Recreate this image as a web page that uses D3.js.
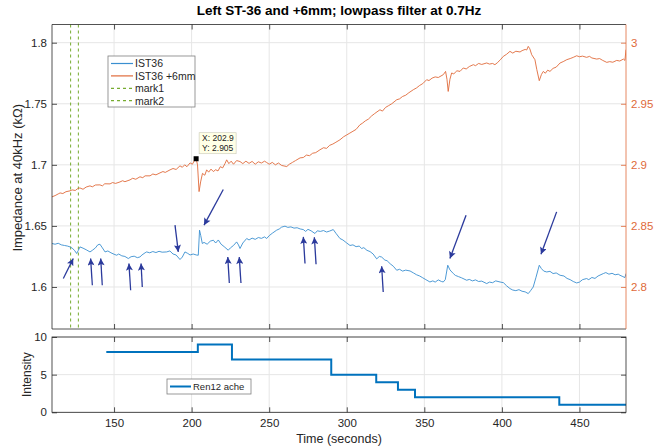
<!DOCTYPE html>
<html><head><meta charset="utf-8">
<script src="https://cdn.jsdelivr.net/npm/d3@7"></script>
<style>
body{margin:0;background:#fff}
svg{font-family:"Liberation Sans",Arial,sans-serif}
</style>
</head><body>
<svg id="c" width="662" height="447"></svg>
<script>
// ---- data ----
const titleText = "Left ST-36 and +6mm; lowpass filter at 0.7Hz";
const seriesNames = ["IST36", "IST36 +6mm", "mark1", "mark2"];
const ist36 = [[110,1.6356],[112,1.6350],[114,1.6358],[116,1.6345],[118,1.6340],[120,1.6335],[121.6,1.6328],[123,1.6318],[124.5,1.6300],[125.9,1.6274],[127,1.6300],[128,1.6328],[130,1.6318],[132,1.6305],[134.5,1.6287],[136,1.6300],[138,1.6320],[139.5,1.6345],[140.9,1.6350],[142.5,1.6320],[144.2,1.6287],[146,1.6295],[148,1.6280],[150,1.6268],[151.7,1.6260],[153,1.6270],[155,1.6255],[157,1.6250],[159.2,1.6233],[161,1.6248],[163,1.6252],[165,1.6240],[166.7,1.6246],[168,1.6262],[170,1.6280],[171,1.6287],[173,1.6280],[175,1.6290],[177,1.6282],[179,1.6292],[181,1.6285],[183.9,1.6287],[186,1.6295],[188,1.6270],[190,1.6262],[192.5,1.6225],[194,1.6245],[195.7,1.6287],[197.5,1.6275],[199,1.6262],[201,1.6270],[203,1.6262],[204.3,1.6260],[205.1,1.6465],[205.9,1.6420],[206.9,1.6356],[208,1.6365],[210,1.6350],[212,1.6375],[214,1.6383],[215.5,1.6360],[217.2,1.6385],[219,1.6350],[221,1.6330],[223.6,1.6301],[225,1.6320],[227,1.6340],[229,1.6369],[230.2,1.6345],[231.2,1.6315],[233,1.6360],[235.5,1.6397],[237,1.6385],[239,1.6400],[241,1.6390],[243,1.6405],[245,1.6398],[247,1.6410],[248.4,1.6397],[250,1.6420],[252,1.6440],[254.8,1.6465],[256.5,1.6475],[258,1.6490],[260.2,1.6498],[262,1.6488],[264,1.6492],[266,1.6482],[268,1.6485],[270,1.6475],[272,1.6470],[273.5,1.6455],[275,1.6472],[277,1.6460],[279.5,1.6438],[281,1.6460],[283,1.6455],[285,1.6462],[287,1.6450],[289,1.6458],[291.3,1.6470],[293,1.6440],[295.6,1.6397],[297.5,1.6385],[300,1.6360],[302.1,1.6340],[304,1.6345],[306,1.6330],[308,1.6335],[309.6,1.6315],[311,1.6322],[313,1.6300],[315,1.6290],[317,1.6270],[319.3,1.6230],[321,1.6250],[322.5,1.6245],[324.6,1.6220],[326,1.6215],[328,1.6190],[330,1.6170],[332.2,1.6137],[334,1.6145],[336,1.6130],[338,1.6138],[340.8,1.6131],[343,1.6115],[345,1.6100],[347,1.6090],[349,1.6075],[351,1.6060],[353.6,1.6041],[355.5,1.6050],[357,1.6040],[359,1.6058],[361,1.6045],[362.2,1.6041],[363.5,1.6060],[365.1,1.6178],[366.5,1.6140],[368.7,1.6110],[370,1.6095],[372,1.6085],[374,1.6075],[377.3,1.6055],[379,1.6062],[381,1.6050],[383,1.6058],[385,1.6045],[387,1.6048],[390.2,1.6028],[392,1.6040],[394,1.6035],[396,1.6050],[398.8,1.6041],[401,1.6035],[403,1.6010],[405.2,1.5987],[407,1.5975],[409,1.5970],[411,1.5978],[413,1.5965],[415,1.5960],[417,1.5946],[418.5,1.5970],[420.2,1.6000],[422,1.6080],[424.1,1.6178],[425.5,1.6150],[427,1.6130],[428.9,1.6123],[431,1.6128],[433,1.6110],[435,1.6115],[437.5,1.6096],[440,1.6090],[442,1.6070],[444,1.6060],[446,1.6045],[448.2,1.6033],[450,1.6040],[452,1.6060],[454.6,1.6069],[456,1.6060],[458,1.6078],[460,1.6070],[462,1.6090],[465.4,1.6110],[467,1.6118],[469,1.6105],[471,1.6112],[473,1.6100],[475,1.6105],[476.1,1.6096],[478,1.6085],[479.3,1.6077],[480,1.6110]];
const ist36p6 = [[110,2.8738],[112,2.8748],[114,2.8762],[115.2,2.8770],[117,2.8765],[119,2.8780],[121.6,2.8787],[123,2.8795],[125,2.8790],[126.5,2.8805],[128,2.8811],[130,2.8800],[132,2.8818],[134.5,2.8828],[136,2.8820],[138,2.8835],[140.9,2.8836],[142.5,2.8828],[144,2.8845],[147.4,2.8844],[149,2.8855],[151,2.8848],[153.8,2.8860],[155.5,2.8870],[157,2.8862],[160.3,2.8877],[162,2.8890],[164,2.8882],[166.7,2.8902],[168.5,2.8895],[170,2.8910],[173.2,2.8910],[175,2.8925],[177,2.8918],[179.6,2.8934],[181.5,2.8945],[183,2.8938],[186.1,2.8959],[188,2.8970],[190,2.8962],[192.5,2.8992],[194,2.8980],[195.5,2.9000],[197,2.8985],[199,2.9016],[200.5,2.9005],[202,2.9040],[202.9,2.9050],[203.8,2.9000],[204.8,2.8781],[205.8,2.8860],[207,2.8930],[208.5,2.8915],[209.7,2.8959],[211,2.8940],[212.5,2.8965],[214,2.8945],[215.5,2.8960],[217,2.8950],[218.5,2.8985],[220,2.8975],[221.5,2.9010],[222.6,2.9041],[224,2.9010],[225.5,2.9030],[227,2.9005],[229,2.9035],[231.2,2.9027],[233,2.9010],[235,2.9030],[237,2.9012],[239,2.9028],[241,2.9005],[243,2.9025],[245,2.9015],[247,2.9030],[248.4,2.9019],[250,2.9005],[252,2.9020],[254,2.9000],[256,2.9015],[258,2.8995],[261.3,2.8986],[263,2.9005],[265,2.9020],[267,2.9035],[269.9,2.9057],[272,2.9060],[274,2.9080],[276,2.9075],[278,2.9095],[280,2.9100],[282.7,2.9123],[285,2.9140],[287,2.9135],[289,2.9160],[291,2.9170],[293,2.9185],[295.6,2.9205],[298,2.9230],[300,2.9245],[302,2.9260],[304,2.9275],[306,2.9290],[308.5,2.9328],[310,2.9340],[312,2.9360],[314,2.9375],[316,2.9400],[318,2.9420],[321.4,2.9451],[323,2.9440],[325,2.9470],[327,2.9485],[329,2.9500],[332.2,2.9533],[334,2.9540],[336,2.9560],[338,2.9570],[340,2.9590],[342.9,2.9615],[345,2.9630],[347,2.9650],[349,2.9665],[351.5,2.9697],[353,2.9690],[355,2.9710],[357,2.9720],[359,2.9715],[362.2,2.9738],[363.7,2.9765],[364.6,2.9700],[365.4,2.9601],[366.5,2.9700],[367.6,2.9752],[369,2.9745],[371,2.9770],[373,2.9765],[375.1,2.9793],[377,2.9785],[379,2.9805],[381.6,2.9820],[383,2.9812],[385,2.9830],[387,2.9822],[390.2,2.9834],[392,2.9825],[394,2.9830],[395.5,2.9820],[397,2.9835],[399,2.9860],[400.9,2.9888],[403,2.9905],[405.2,2.9929],[407,2.9915],[409,2.9930],[411.7,2.9924],[413,2.9935],[415,2.9945],[416,2.9940],[417,2.9970],[418,2.9950],[419.2,2.9902],[421.3,2.9861],[422.5,2.9780],[424.1,2.9689],[425.5,2.9740],[426.7,2.9765],[428,2.9750],[429.5,2.9775],[431,2.9765],[433,2.9790],[435,2.9800],[437.5,2.9834],[439.5,2.9845],[441.8,2.9861],[444,2.9870],[446,2.9880],[448.2,2.9893],[450,2.9885],[452,2.9890],[454.6,2.9880],[456.5,2.9888],[458,2.9875],[461.1,2.9866],[463,2.9870],[465,2.9855],[467.6,2.9839],[469.5,2.9845],[471.5,2.9840],[474,2.9855],[476,2.9850],[478.3,2.9866],[479.3,2.9855],[480,2.9943]];
const markTimes = [122, 127];
const dataTip = [202.9, 2.905];
// annotation arrows: [tailTime, tailValue, tipTime, tipValue] on left axis
const arrows = [[117.3,1.6069,123.7,1.6233],[136,1.6014,134.9,1.6233],[142.4,1.6014,141.4,1.6233],[160.7,1.5973,159.6,1.6192],[168.2,1.6,167.4,1.6192],[189.3,1.6506,191.4,1.6287],[220.4,1.6798,208,1.6506],[224.3,1.6033,223.3,1.6246],[231.8,1.6033,230.7,1.6246],[273.1,1.6192,272,1.641],[280.2,1.6186,279.1,1.6407],[323.5,1.5959,322.5,1.617],[376.9,1.6588,366.5,1.6233],[435.3,1.6615,425.2,1.6268]];
const painTimes = [145, 204, 226, 290, 319, 333, 344, 437, 480];
const painValues = [8, 9, 7, 5, 4, 3, 2, 1, 1];
const painName = "Ren12 ache";
const xTicks = [150, 200, 250, 300, 350, 400, 450];
const yLeftTicks = [1.6, 1.65, 1.7, 1.75, 1.8];
const yRightTicks = [2.8, 2.85, 2.9, 2.95, 3];
const yLowTicks = [0, 5, 10];

// ---- layout ----
const L = 52, R = 626, T1 = 24.5, B1 = 329, T2 = 337, B2 = 412.3;
const BLUE = "#0072BD", BLUE_L = "#3a8fd0", ORANGE = "#e06a3a", GREEN = "#77AC30", AX = "#262626", GRID = "#e6e6e6", ARROW = "#2b3a9c";
const svg = d3.select("#c");
const x = d3.scaleLinear().domain([110, 480]).range([L, R]);
const yL = d3.scaleLinear().domain([1.5656, 1.8149]).range([B1, T1]);
const yR = d3.scaleLinear().domain([2.7656, 3.0149]).range([B1, T1]);
const yP = d3.scaleLinear().domain([0, 10]).range([B2, T2]);

const defs = svg.append("defs");
defs.append("clipPath").attr("id", "cp1").append("rect").attr("x", L).attr("y", T1).attr("width", R - L).attr("height", B1 - T1);
defs.append("clipPath").attr("id", "cp2").append("rect").attr("x", L).attr("y", T2 - 2).attr("width", R - L + 1).attr("height", B2 - T2 + 4);
defs.append("marker").attr("id", "ah").attr("viewBox", "0 0 10 10").attr("refX", 10).attr("refY", 5)
  .attr("markerWidth", 8).attr("markerHeight", 7).attr("markerUnits", "userSpaceOnUse").attr("orient", "auto")
  .append("path").attr("d", "M0,0 L10,5 L0,10 L2,5 Z").attr("fill", ARROW);

// grids
function grid(g, yScale, ticks, top, bottom) {
  g.selectAll("line.gx").data(xTicks).join("line").attr("x1", d => x(d)).attr("x2", d => x(d))
    .attr("y1", top).attr("y2", bottom).attr("stroke", GRID).attr("stroke-width", 1);
  g.selectAll("line.gy").data(ticks).join("line").attr("class", "gy").attr("x1", L).attr("x2", R)
    .attr("y1", d => yScale(d)).attr("y2", d => yScale(d)).attr("stroke", GRID).attr("stroke-width", 1);
}
grid(svg.append("g"), yL, yLeftTicks, T1, B1);
grid(svg.append("g"), yP, yLowTicks, T2, B2);

// upper plot lines
const p1 = svg.append("g").attr("clip-path", "url(#cp1)");
p1.selectAll("line.mark").data(markTimes).join("line").attr("x1", d => x(d)).attr("x2", d => x(d))
  .attr("y1", T1).attr("y2", B1).attr("stroke", GREEN).attr("stroke-width", 1).attr("stroke-dasharray", "3,3");
p1.append("path").datum(ist36p6).attr("fill", "none").attr("stroke", ORANGE).attr("stroke-width", 0.9)
  .attr("d", d3.line().x(d => x(d[0])).y(d => yR(d[1])));
p1.append("path").datum(ist36).attr("fill", "none").attr("stroke", BLUE_L).attr("stroke-width", 0.9)
  .attr("d", d3.line().x(d => x(d[0])).y(d => yL(d[1])));

// arrows
svg.append("g").selectAll("line").data(arrows).join("line")
  .attr("x1", d => x(d[0])).attr("y1", d => yL(d[1])).attr("x2", d => x(d[2])).attr("y2", d => yL(d[3]))
  .attr("stroke", ARROW).attr("stroke-width", 1.3).attr("marker-end", "url(#ah)");

// upper axes
const gx1 = svg.append("g").attr("transform", `translate(0,${B1})`)
  .call(d3.axisTop(x).tickValues(xTicks).tickSize(5).tickFormat(""));
const gx1t = svg.append("g").attr("transform", `translate(0,${T1})`)
  .call(d3.axisBottom(x).tickValues(xTicks).tickSize(5).tickFormat(""));
[gx1, gx1t].forEach(g => { g.select(".domain").remove(); g.selectAll("line").attr("stroke", AX).attr("stroke-width", 0.8); });
const gyl = svg.append("g").attr("transform", `translate(${L},0)`)
  .call(d3.axisRight(yL).tickValues(yLeftTicks).tickSize(5).tickFormat(d3.format("")));
gyl.select(".domain").remove();
gyl.selectAll("line").attr("stroke", AX).attr("stroke-width", 0.8);
gyl.selectAll("text").attr("x", -5).attr("text-anchor", "end").attr("fill", AX).style("font-size", "11.5px").attr("font-family", null);
const gyr = svg.append("g").attr("transform", `translate(${R},0)`)
  .call(d3.axisLeft(yR).tickValues(yRightTicks).tickSize(5).tickFormat(d3.format("")));
gyr.select(".domain").remove();
gyr.selectAll("line").attr("stroke", ORANGE).attr("stroke-width", 0.8);
gyr.selectAll("text").attr("x", 5).attr("text-anchor", "start").attr("fill", ORANGE).style("font-size", "11.5px").attr("font-family", null);
svg.append("path").attr("d", `M${R},${B1} L${L},${B1} L${L},${T1} L${R},${T1}`).attr("fill", "none").attr("stroke", AX).attr("stroke-width", 0.8);
svg.append("line").attr("x1", R).attr("x2", R).attr("y1", T1).attr("y2", B1).attr("stroke", ORANGE).attr("stroke-width", 0.8);

// data tip
const tipX = x(dataTip[0]), tipY = yR(dataTip[1]);
svg.append("rect").attr("x", tipX - 2.5).attr("y", tipY - 2.5).attr("width", 5).attr("height", 5).attr("fill", "#000");
const tb = svg.append("g").attr("transform", `translate(${tipX + 3},${tipY - 26})`);
tb.append("rect").attr("width", 37).attr("height", 21).attr("fill", "#ffffe6").attr("stroke", "#c8c8b8").attr("stroke-width", 0.6);
tb.append("text").attr("x", 3).attr("y", 8.5).style("font-size", "8.5px").attr("fill", "#222").text("X: " + dataTip[0]);
tb.append("text").attr("x", 3).attr("y", 18).style("font-size", "8.5px").attr("fill", "#222").text("Y: " + dataTip[1]);

// legend upper
const lg = svg.append("g").attr("transform", "translate(108,56)");
lg.append("rect").attr("width", 87).attr("height", 51).attr("fill", "#fff").attr("stroke", "#7f7f7f").attr("stroke-width", 0.8);
const legStyles = [[BLUE_L, null], [ORANGE, null], [GREEN, "3,3"], [GREEN, "3,3"]];
seriesNames.forEach((n, i) => {
  const yy = 7.5 + i * 12.4;
  lg.append("line").attr("x1", 3).attr("x2", 25).attr("y1", yy).attr("y2", yy)
    .attr("stroke", legStyles[i][0]).attr("stroke-width", 1.2).attr("stroke-dasharray", legStyles[i][1]);
  lg.append("text").attr("x", 27).attr("y", yy + 3.8).style("font-size", "10.5px").attr("fill", AX).text(n);
});

// title + labels
svg.append("text").attr("x", (L + R) / 2).attr("y", 15).attr("text-anchor", "middle")
  .style("font-size", "13.5px").style("font-weight", "bold").attr("fill", "#000").text(titleText);
svg.append("text").attr("transform", `translate(22,${(T1 + B1) / 2 + 1}) rotate(-90)`).attr("text-anchor", "middle")
  .style("font-size", "13px").attr("fill", AX).text("Impedance at 40kHz (kΩ)");

// lower plot
const p2 = svg.append("g").attr("clip-path", "url(#cp2)");
p2.append("path").datum(painTimes.map((t, i) => [t, painValues[i]])).attr("fill", "none").attr("stroke", BLUE).attr("stroke-width", 2)
  .attr("d", d3.line().curve(d3.curveStepAfter).x(d => x(d[0])).y(d => yP(d[1])));
const gx2 = svg.append("g").attr("transform", `translate(0,${B2})`)
  .call(d3.axisTop(x).tickValues(xTicks).tickSize(5).tickFormat(""));
gx2.select(".domain").remove(); gx2.selectAll("line").attr("stroke", AX).attr("stroke-width", 0.8);
const gx2t = svg.append("g").attr("transform", `translate(0,${T2})`)
  .call(d3.axisBottom(x).tickValues(xTicks).tickSize(5).tickFormat(""));
gx2t.select(".domain").remove(); gx2t.selectAll("line").attr("stroke", AX).attr("stroke-width", 0.8);
const gx2l = svg.append("g").attr("transform", `translate(0,${B2})`)
  .call(d3.axisBottom(x).tickValues(xTicks).tickSize(0).tickPadding(7).tickFormat(d3.format("")));
gx2l.select(".domain").remove();
gx2l.selectAll("text").attr("fill", AX).style("font-size", "11.5px").attr("font-family", null);
const gyp = svg.append("g").attr("transform", `translate(${L},0)`)
  .call(d3.axisRight(yP).tickValues(yLowTicks).tickSize(5).tickFormat(d3.format("")));
gyp.select(".domain").remove(); gyp.selectAll("line").attr("stroke", AX).attr("stroke-width", 0.8);
gyp.selectAll("text").attr("x", -5).attr("text-anchor", "end").attr("fill", AX).style("font-size", "11.5px").attr("font-family", null);
const gypr = svg.append("g").attr("transform", `translate(${R},0)`)
  .call(d3.axisLeft(yP).tickValues(yLowTicks).tickSize(5).tickFormat(""));
gypr.select(".domain").remove(); gypr.selectAll("line").attr("stroke", AX).attr("stroke-width", 0.8);
svg.append("rect").attr("x", L).attr("y", T2).attr("width", R - L).attr("height", B2 - T2).attr("fill", "none").attr("stroke", AX).attr("stroke-width", 0.8);
svg.append("text").attr("transform", `translate(31,${(T2 + B2) / 2}) rotate(-90)`).attr("text-anchor", "middle")
  .style("font-size", "12px").attr("fill", AX).text("Intensity");
svg.append("text").attr("x", (L + R) / 2).attr("y", 443).attr("text-anchor", "middle")
  .style("font-size", "12.5px").attr("fill", AX).text("Time (seconds)");
const lg2 = svg.append("g").attr("transform", "translate(167,379)");
lg2.append("rect").attr("width", 84).attr("height", 15).attr("fill", "#fff").attr("stroke", "#7f7f7f").attr("stroke-width", 0.8);
lg2.append("line").attr("x1", 3).attr("x2", 24).attr("y1", 7.5).attr("y2", 7.5).attr("stroke", BLUE).attr("stroke-width", 2);
lg2.append("text").attr("x", 26).attr("y", 11).style("font-size", "9.5px").attr("fill", AX).text(painName);
</script>
</body></html>
